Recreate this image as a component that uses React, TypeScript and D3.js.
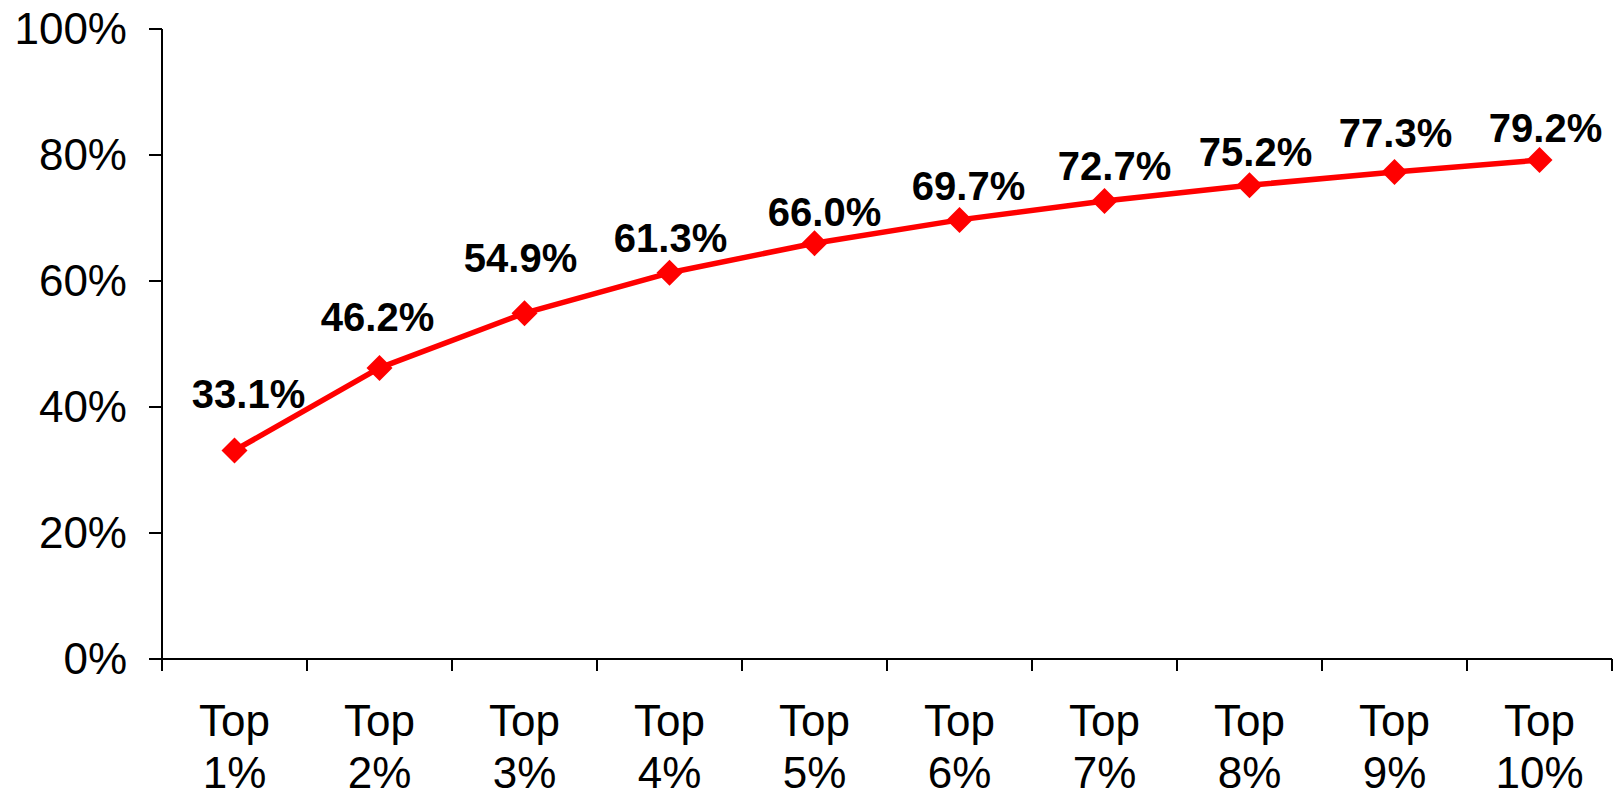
import React, { useEffect, useRef } from 'react';
import * as d3 from 'd3';

const categories = ['Top 1%', 'Top 2%', 'Top 3%', 'Top 4%', 'Top 5%', 'Top 6%', 'Top 7%', 'Top 8%', 'Top 9%', 'Top 10%'];
const shares = [33.1, 46.2, 54.9, 61.3, 66.0, 69.7, 72.7, 75.2, 77.3, 79.2];
const yTicks = [0, 20, 40, 60, 80, 100];
// label nudges (dx, lift above the point) as placed in the original
const labelDx = [14, -2, -4, 1, 10, 9, 10, 6, 1, 6];
const labelLift = [42, 37, 41, 21, 17, 20, 21, 19, 25, 18];

const FONT = '"Liberation Sans", Arial, sans-serif';

function App() {
  const svgRef = useRef<SVGSVGElement>(null);

  useEffect(() => {
    const svg = d3.select(svgRef.current);
    svg.selectAll('*').remove();

    const width = 1615;
    const height = 798;
    const left = 162;
    const right = 1612;
    const top = 29;
    const bottom = 659;

    svg.attr('width', width).attr('height', height);

    const x = d3.scaleBand<string>().domain(categories).range([left, right]).padding(0);
    const y = d3.scaleLinear().domain([0, 100]).range([bottom, top]);

    const axes = svg.append('g').attr('stroke', '#000').attr('stroke-width', 2).attr('shape-rendering', 'crispEdges');

    // y axis line + ticks
    axes.append('line').attr('x1', left).attr('x2', left).attr('y1', y(100)).attr('y2', bottom + 12);
    axes.selectAll('.ytick')
      .data(yTicks)
      .enter()
      .append('line')
      .attr('x1', left - 13)
      .attr('x2', left)
      .attr('y1', (d) => y(d))
      .attr('y2', (d) => y(d));

    // x axis line + ticks between categories
    axes.append('line').attr('x1', left).attr('x2', right).attr('y1', bottom).attr('y2', bottom);
    const edges = categories.map((c) => x(c)!).concat([right]);
    axes.selectAll('.xtick')
      .data(edges)
      .enter()
      .append('line')
      .attr('x1', (d) => d)
      .attr('x2', (d) => d)
      .attr('y1', bottom)
      .attr('y2', bottom + 12);

    svg.append('g')
      .selectAll('text')
      .data(yTicks)
      .enter()
      .append('text')
      .attr('x', 127)
      .attr('y', (d) => y(d))
      .attr('dy', '0.35em')
      .attr('text-anchor', 'end')
      .style('font-family', FONT)
      .style('font-size', '44px')
      .text((d) => `${d}%`);

    const xl = svg.append('g')
      .selectAll('text')
      .data(categories)
      .enter()
      .append('text')
      .attr('text-anchor', 'middle')
      .style('font-family', FONT)
      .style('font-size', '44px');
    xl.append('tspan')
      .attr('x', (d) => x(d)! + x.bandwidth() / 2)
      .attr('y', 736)
      .text((d) => d.split(' ')[0]);
    xl.append('tspan')
      .attr('x', (d) => x(d)! + x.bandwidth() / 2)
      .attr('y', 788)
      .text((d) => d.split(' ')[1]);

    const cx = (i: number) => x(categories[i])! + x.bandwidth() / 2;

    const line = d3.line<number>()
      .x((d, i) => cx(i))
      .y((d) => y(d));

    svg.append('path')
      .datum(shares)
      .attr('d', line)
      .attr('fill', 'none')
      .attr('stroke', '#ff0000')
      .attr('stroke-width', 5.5)
      .attr('stroke-linejoin', 'round');

    // diamond: square rotated 45deg, 26px tip to tip
    const diamond = d3.symbol().type(d3.symbolSquare).size(338);
    svg.append('g')
      .selectAll('path')
      .data(shares)
      .enter()
      .append('path')
      .attr('d', diamond)
      .attr('transform', (d, i) => `translate(${cx(i)},${y(d)}) rotate(45)`)
      .attr('fill', '#ff0000');

    svg.append('g')
      .selectAll('text')
      .data(shares)
      .enter()
      .append('text')
      .attr('x', (d, i) => cx(i) + labelDx[i])
      .attr('y', (d, i) => y(d) - labelLift[i])
      .attr('text-anchor', 'middle')
      .style('font-family', FONT)
      .style('font-size', '40px')
      .style('font-weight', 'bold')
      .text((d) => `${d.toFixed(1)}%`);
  }, []);

  return <svg ref={svgRef} style={{ position: 'absolute', left: 0, top: 0, background: '#fff' }}></svg>;
}

export default App;
